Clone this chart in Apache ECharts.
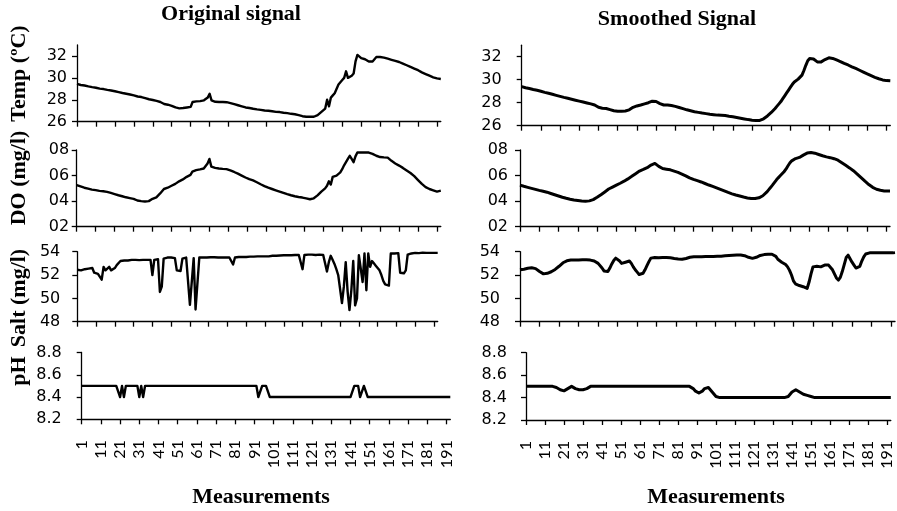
<!DOCTYPE html>
<html><head><meta charset="utf-8">
<script src="https://cdn.jsdelivr.net/npm/echarts@6/dist/echarts.min.js"></script>
<style>html,body{margin:0;padding:0;background:#fff}#c{width:897px;height:511px}</style>
</head><body><div id="c"></div>
<script>
// categories 1..193 (measurement index)
const categories = [];
for (let i = 1; i <= 193; i++) categories.push(String(i));

const tempTicks = [26, 28, 30, 32];
const doTicks = [2, 4, 6, 8];
const saltTicks = [48, 50, 52, 54];
const phTicks = [8.2, 8.4, 8.6, 8.8];

const tempOriginal = [
29.45,29.4,29.35,29.32,29.3,29.25,29.22,29.2,29.15,29.12,
29.1,29.05,29.02,29.0,28.98,28.95,28.9,28.88,28.85,28.8,
28.78,28.75,28.7,28.65,28.62,28.6,28.55,28.5,28.48,28.45,
28.4,28.35,28.3,28.28,28.25,28.2,28.15,28.1,28.05,28.0,
27.98,27.95,27.9,27.85,27.8,27.7,27.62,27.58,27.55,27.5,
27.45,27.4,27.3,27.25,27.22,27.2,27.25,27.3,27.3,27.32,
27.35,27.8,27.82,27.85,27.85,27.88,27.9,27.95,28.05,28.2,
28.55,27.95,27.85,27.82,27.8,27.8,27.82,27.8,27.8,27.78,
27.75,27.7,27.65,27.6,27.55,27.5,27.45,27.4,27.35,27.3,
27.28,27.25,27.2,27.18,27.15,27.12,27.1,27.08,27.05,27.02,
27.0,27.0,26.98,26.95,26.92,26.9,26.9,26.88,26.85,26.82,
26.8,26.78,26.75,26.72,26.7,26.68,26.65,26.6,26.55,26.5,
26.48,26.45,26.45,26.45,26.45,26.45,26.48,26.6,26.75,26.9,
27.0,27.2,28.0,27.4,28.2,28.4,28.6,28.7,29.4,29.6,
29.8,30.0,30.6,30.0,30.1,30.2,30.4,31.5,32.1,32.0,
31.8,31.75,31.7,31.6,31.5,31.4,31.5,31.7,31.9,31.95,
31.9,31.88,31.85,31.8,31.75,31.7,31.65,31.6,31.55,31.5,
31.45,31.4,31.3,31.2,31.15,31.05,31.0,30.9,30.85,30.75,
30.7,30.6,30.5,30.45,30.35,30.3,30.2,30.1,30.05,30.0,
29.95,29.95,29.9
];

const tempSmoothed = [
29.4,29.35,29.3,29.27,29.23,29.2,29.15,29.12,29.08,29.05,
29.0,28.95,28.9,28.86,28.82,28.78,28.73,28.68,28.64,28.6,
28.55,28.5,28.46,28.42,28.38,28.34,28.3,28.26,28.22,28.18,
28.14,28.1,28.06,28.02,27.98,27.94,27.9,27.85,27.8,27.7,
27.6,27.55,27.52,27.5,27.5,27.45,27.4,27.35,27.3,27.27,
27.25,27.25,27.25,27.25,27.28,27.3,27.38,27.5,27.6,27.68,
27.72,27.76,27.8,27.85,27.9,27.95,28.0,28.08,28.13,28.15,
28.1,28.0,27.92,27.85,27.8,27.8,27.8,27.78,27.75,27.72,
27.68,27.63,27.58,27.53,27.48,27.43,27.38,27.34,27.3,27.26,
27.22,27.19,27.16,27.13,27.1,27.07,27.05,27.03,27.0,26.98,
26.96,26.94,26.92,26.91,26.9,26.9,26.88,26.85,26.82,26.8,
26.77,26.74,26.71,26.68,26.65,26.62,26.59,26.56,26.53,26.5,
26.48,26.46,26.45,26.45,26.46,26.5,26.6,26.72,26.85,27.0,
27.15,27.32,27.5,27.7,27.9,28.1,28.35,28.6,28.85,29.1,
29.35,29.6,29.8,29.95,30.05,30.2,30.4,30.8,31.25,31.65,
31.85,31.9,31.8,31.65,31.55,31.5,31.55,31.65,31.75,31.85,
31.9,31.9,31.85,31.8,31.72,31.65,31.58,31.5,31.42,31.35,
31.28,31.2,31.12,31.05,30.98,30.9,30.82,30.74,30.66,30.58,
30.5,30.42,30.35,30.28,30.2,30.14,30.08,30.02,29.98,29.95,
29.92,29.9,29.9
];

const doOriginal = [
5.25,5.2,5.15,5.1,5.05,5.0,4.98,4.95,4.9,4.88,
4.86,4.82,4.8,4.78,4.77,4.75,4.72,4.68,4.64,4.6,
4.55,4.5,4.46,4.42,4.38,4.34,4.3,4.27,4.24,4.22,
4.18,4.12,4.05,4.02,4.0,3.98,3.97,3.95,4.0,4.1,
4.18,4.22,4.3,4.45,4.6,4.75,4.95,5.05,5.05,5.08,
5.2,5.28,5.35,5.45,5.55,5.62,5.7,5.8,5.9,5.98,
6.05,6.3,6.4,6.42,6.5,6.48,6.52,6.55,6.65,6.95,
7.3,6.7,6.62,6.6,6.58,6.55,6.55,6.52,6.5,6.5,
6.45,6.4,6.35,6.28,6.22,6.15,6.08,6.0,5.92,5.85,
5.78,5.72,5.68,5.62,5.55,5.48,5.4,5.32,5.25,5.18,
5.12,5.05,5.0,4.95,4.9,4.85,4.8,4.75,4.7,4.65,
4.6,4.55,4.5,4.46,4.42,4.38,4.35,4.32,4.3,4.28,
4.25,4.22,4.18,4.15,4.18,4.22,4.3,4.45,4.6,4.75,
4.85,5.0,5.2,5.55,5.3,5.9,5.95,6.0,6.15,6.25,
6.5,6.8,7.05,7.3,7.55,7.3,7.05,7.5,7.8,7.75,
7.8,7.75,7.8,7.78,7.8,7.75,7.7,7.6,7.55,7.5,
7.45,7.45,7.42,7.45,7.4,7.3,7.15,7.05,6.95,6.85,
6.78,6.7,6.6,6.5,6.4,6.3,6.2,6.05,5.95,5.8,
5.65,5.5,5.35,5.2,5.1,5.05,4.95,4.9,4.85,4.8,
4.75,4.85,4.82
];

const doSmoothed = [
5.25,5.2,5.16,5.12,5.08,5.04,5.0,4.96,4.92,4.88,
4.84,4.8,4.77,4.74,4.7,4.65,4.6,4.55,4.5,4.45,
4.4,4.35,4.3,4.26,4.22,4.18,4.15,4.12,4.09,4.07,
4.05,4.03,4.01,4.0,4.0,4.0,4.02,4.06,4.12,4.2,
4.3,4.4,4.5,4.6,4.72,4.85,4.95,5.03,5.1,5.18,
5.25,5.32,5.4,5.48,5.56,5.65,5.74,5.84,5.94,6.05,
6.15,6.25,6.35,6.42,6.48,6.55,6.62,6.72,6.82,6.9,
6.95,6.85,6.72,6.6,6.55,6.52,6.5,6.48,6.45,6.4,
6.35,6.3,6.25,6.18,6.12,6.05,5.98,5.9,5.82,5.75,
5.7,5.65,5.6,5.55,5.5,5.45,5.38,5.32,5.26,5.2,
5.15,5.1,5.04,4.98,4.92,4.86,4.8,4.74,4.68,4.62,
4.57,4.52,4.48,4.44,4.4,4.36,4.32,4.28,4.25,4.22,
4.2,4.2,4.2,4.22,4.26,4.32,4.42,4.55,4.7,4.88,
5.06,5.25,5.45,5.65,5.82,5.98,6.12,6.3,6.5,6.75,
6.98,7.15,7.28,7.33,7.38,7.42,7.5,7.6,7.7,7.76,
7.8,7.8,7.78,7.75,7.7,7.65,7.6,7.55,7.5,7.46,
7.43,7.4,7.36,7.32,7.28,7.2,7.1,7.0,6.9,6.8,
6.7,6.6,6.5,6.38,6.26,6.12,5.98,5.84,5.7,5.56,
5.42,5.3,5.18,5.08,5.0,4.93,4.88,4.85,4.82,4.8,
4.8,4.8,4.8
];

const saltOriginal = [
52.45,52.5,52.4,52.55,52.5,52.45,52.55,52.5,52.6,52.2,
52.15,52.1,52.1,51.6,52.7,52.4,52.35,52.7,52.4,52.45,
52.6,52.85,53.0,53.2,53.25,53.25,53.28,53.25,53.28,53.3,
53.28,53.3,53.3,53.28,53.3,53.3,53.32,53.3,53.3,53.3,
52.0,53.3,53.35,53.35,50.55,51.0,53.4,53.45,53.5,53.5,
53.5,53.5,53.45,52.4,52.3,52.35,53.4,53.5,53.5,53.45,
49.45,49.5,53.45,49.05,49.1,53.5,53.5,53.5,53.5,53.5,
53.5,53.52,53.5,53.52,53.5,53.5,53.52,53.5,53.52,53.5,
53.52,53.5,53.55,52.9,53.5,53.55,53.55,53.55,53.55,53.55,
53.55,53.55,53.58,53.55,53.58,53.58,53.6,53.58,53.6,53.6,
53.6,53.62,53.6,53.62,53.65,53.65,53.65,53.68,53.68,53.7,
53.7,53.7,53.7,53.72,53.7,53.72,53.72,53.7,53.72,53.72,
52.5,53.72,53.72,53.75,53.72,53.75,53.75,53.72,53.75,53.75,
53.75,53.72,53.75,52.3,53.1,53.65,53.3,52.95,52.5,52.0,
50.8,49.6,51.0,53.1,50.6,49.0,50.7,53.2,49.4,50.0,
53.7,53.7,51.4,53.85,50.7,53.85,52.7,53.2,53.0,52.8,
52.6,52.4,52.0,51.5,51.2,51.1,51.1,53.85,53.85,53.85,
53.85,53.88,52.2,52.1,52.15,52.4,53.75,53.7,53.85,53.9,
53.9,53.9,53.88,53.9,53.92,53.9,53.9,53.92,53.9,53.9,
53.9,53.92,53.9
];

const saltSmoothed = [
52.45,52.48,52.5,52.55,52.58,52.6,52.62,52.62,52.55,52.45,
52.3,52.15,52.1,52.1,52.15,52.2,52.28,52.38,52.48,52.6,
52.75,52.9,53.05,53.15,53.22,53.26,53.28,53.28,53.28,53.28,
53.28,53.28,53.3,53.3,53.3,53.3,53.28,53.25,53.2,53.1,
53.0,52.85,52.6,52.35,52.2,52.3,52.6,52.95,53.25,53.45,
53.4,53.2,53.0,53.0,53.1,53.2,53.2,53.0,52.7,52.45,
52.25,52.05,52.0,52.15,52.45,52.8,53.15,53.45,53.55,53.5,
53.48,53.48,53.5,53.5,53.5,53.5,53.5,53.48,53.45,53.42,
53.4,53.38,53.36,53.35,53.38,53.42,53.48,53.52,53.55,53.56,
53.57,53.57,53.57,53.57,53.58,53.58,53.58,53.58,53.58,53.58,
53.6,53.6,53.6,53.62,53.63,53.65,53.66,53.68,53.7,53.7,
53.7,53.72,53.72,53.72,53.7,53.66,53.6,53.52,53.46,53.43,
53.45,53.52,53.6,53.68,53.72,53.75,53.77,53.78,53.78,53.78,
53.75,53.6,53.35,53.2,53.1,53.0,52.9,52.7,52.4,52.0,
51.5,51.25,51.15,51.1,51.05,51.0,50.9,50.85,51.4,52.1,
52.7,52.8,52.75,52.7,52.7,52.75,52.85,52.95,52.85,52.65,
52.45,52.1,51.75,51.57,51.8,52.3,52.9,53.5,53.7,53.4,
53.1,52.85,52.6,52.57,52.75,53.2,53.55,53.8,53.9,53.9,
53.9,53.9,53.9,53.9,53.9,53.92,53.9,53.9,53.92,53.9,
53.9,53.9,53.92
];

const phOriginal = [
8.5,8.5,8.5,8.5,8.5,8.5,8.5,8.5,8.5,8.5,
8.5,8.5,8.5,8.5,8.5,8.5,8.5,8.5,8.5,8.5,
8.4,8.5,8.4,8.5,8.5,8.5,8.5,8.5,8.5,8.5,
8.4,8.5,8.4,8.5,8.5,8.5,8.5,8.5,8.5,8.5,
8.5,8.5,8.5,8.5,8.5,8.5,8.5,8.5,8.5,8.5,
8.5,8.5,8.5,8.5,8.5,8.5,8.5,8.5,8.5,8.5,
8.5,8.5,8.5,8.5,8.5,8.5,8.5,8.5,8.5,8.5,
8.5,8.5,8.5,8.5,8.5,8.5,8.5,8.5,8.5,8.5,
8.5,8.5,8.5,8.5,8.5,8.5,8.5,8.5,8.5,8.5,
8.5,8.5,8.4,8.4,8.5,8.5,8.5,8.5,8.4,8.4,
8.4,8.4,8.4,8.4,8.4,8.4,8.4,8.4,8.4,8.4,
8.4,8.4,8.4,8.4,8.4,8.4,8.4,8.4,8.4,8.4,
8.4,8.4,8.4,8.4,8.4,8.4,8.4,8.4,8.4,8.4,
8.4,8.4,8.4,8.4,8.4,8.4,8.4,8.4,8.4,8.4,
8.4,8.4,8.5,8.5,8.5,8.4,8.4,8.5,8.5,8.4,
8.4,8.4,8.4,8.4,8.4,8.4,8.4,8.4,8.4,8.4,
8.4,8.4,8.4,8.4,8.4,8.4,8.4,8.4,8.4,8.4,
8.4,8.4,8.4,8.4,8.4,8.4,8.4,8.4,8.4,8.4,
8.4,8.4,8.4,8.4,8.4,8.4,8.4,8.4,8.4,8.4,
8.4,8.4,8.4
];

const phSmoothed = [
8.5,8.5,8.5,8.5,8.5,8.5,8.5,8.5,8.5,8.5,
8.5,8.5,8.5,8.5,8.5,8.5,8.49,8.48,8.47,8.46,
8.46,8.47,8.48,8.49,8.5,8.49,8.48,8.47,8.47,8.47,
8.47,8.48,8.48,8.49,8.5,8.5,8.5,8.5,8.5,8.5,
8.5,8.5,8.5,8.5,8.5,8.5,8.5,8.5,8.5,8.5,
8.5,8.5,8.5,8.5,8.5,8.5,8.5,8.5,8.5,8.5,
8.5,8.5,8.5,8.5,8.5,8.5,8.5,8.5,8.5,8.5,
8.5,8.5,8.5,8.5,8.5,8.5,8.5,8.5,8.5,8.5,
8.5,8.5,8.5,8.5,8.5,8.5,8.5,8.49,8.48,8.46,
8.45,8.44,8.44,8.46,8.48,8.49,8.49,8.47,8.45,8.43,
8.41,8.4,8.4,8.4,8.4,8.4,8.4,8.4,8.4,8.4,
8.4,8.4,8.4,8.4,8.4,8.4,8.4,8.4,8.4,8.4,
8.4,8.4,8.4,8.4,8.4,8.4,8.4,8.4,8.4,8.4,
8.4,8.4,8.4,8.4,8.4,8.4,8.4,8.4,8.41,8.43,
8.45,8.46,8.47,8.46,8.45,8.44,8.43,8.43,8.42,8.42,
8.41,8.41,8.4,8.4,8.4,8.4,8.4,8.4,8.4,8.4,
8.4,8.4,8.4,8.4,8.4,8.4,8.4,8.4,8.4,8.4,
8.4,8.4,8.4,8.4,8.4,8.4,8.4,8.4,8.4,8.4,
8.4,8.4,8.4,8.4,8.4,8.4,8.4,8.4,8.4,8.4,
8.4,8.4,8.4
];

const yLabelFont = '"DejaVu Sans"';
const xLabelFont = 'Lato';
const fmtInt = v => String(v);
const fmtDO = v => '0' + v;
const fmtPH = v => v.toFixed(1);

const panels = [
  {data: tempOriginal, l: 77,   r: 440.8, t: 45,   b: 121.7, min: 26,  max: 33,  ticks: tempTicks, fmt: fmtInt, m: 10, lw: 2.4},
  {data: doOriginal,   l: 76.7, r: 440.8, t: 150,  b: 226.7, min: 2,   max: 8,   ticks: doTicks,   fmt: fmtDO,  m: 7.5, lw: 2.4},
  {data: saltOriginal, l: 77.3, r: 437.7, t: 251.7,b: 321.7, min: 48,  max: 54,  ticks: saltTicks, fmt: fmtInt, m: 17, lw: 2.4},
  {data: phOriginal,   l: 81.7, r: 450.3, t: 352.5,b: 419.3, min: 8.2, max: 8.8, ticks: phTicks,   fmt: fmtPH,  m: 20, lw: 2.4, xl: true},
  {data: tempSmoothed, l: 521.7,r: 890.3, t: 45.2, b: 125.7, min: 26,  max: 33,  ticks: tempTicks, fmt: fmtInt, m: 20, lw: 3},
  {data: doSmoothed,   l: 520,  r: 890,   t: 150,  b: 226.7, min: 2,   max: 8,   ticks: doTicks,   fmt: fmtDO,  m: 12, lw: 3},
  {data: saltSmoothed, l: 520,  r: 895,   t: 251.7,b: 321.7, min: 48,  max: 54,  ticks: saltTicks, fmt: fmtInt, m: 20, lw: 3},
  {data: phSmoothed,   l: 526,  r: 890.8, t: 352.7,b: 420,   min: 8.2, max: 8.8, ticks: phTicks,   fmt: fmtPH,  m: 19, lw: 3, xl: true}
];

const axisLineStyle = {color: '#000', width: 1.3};
const grid = [], xAxis = [], yAxis = [], series = [];
panels.forEach((p, i) => {
  grid.push({left: p.l, top: p.t, width: p.r - p.l, height: p.b - p.t, containLabel: false});
  xAxis.push({
    type: 'category', gridIndex: i, data: categories, boundaryGap: false,
    axisLine: {show: true, lineStyle: axisLineStyle},
    axisTick: {show: true, interval: 9, length: 5, lineStyle: axisLineStyle},
    axisLabel: {show: !!p.xl, interval: 9, rotate: 90, margin: 21, color: '#000',
      fontFamily: xLabelFont, fontSize: 16},
    splitLine: {show: false}
  });
  yAxis.push({
    type: 'value', gridIndex: i, min: p.min, max: p.max,
    axisLine: {show: true, lineStyle: axisLineStyle},
    axisTick: {show: true, length: 5, customValues: p.ticks, lineStyle: axisLineStyle},
    axisLabel: {show: true, customValues: p.ticks, formatter: p.fmt, margin: p.m,
      color: '#000', fontFamily: yLabelFont, fontSize: 16},
    splitLine: {show: false}
  });
  series.push({
    type: 'line', xAxisIndex: i, yAxisIndex: i, data: p.data,
    showSymbol: false, symbol: 'none', smooth: false,
    lineStyle: {color: '#000', width: p.lw, join: 'round'},
    silent: true
  });
});

const serif = '"Liberation Serif", "Times New Roman", serif';
const titleStyle = (text, size) => ({text: text, fontFamily: serif, fontWeight: 'bold', fontSize: size || 22,
  fill: '#000', align: 'center', verticalAlign: 'middle'});
const graphic = [
  {type: 'text', x: 231, y: 14, style: titleStyle('Original signal')},
  {type: 'text', x: 677, y: 19, style: titleStyle('Smoothed Signal')},
  {type: 'text', x: 261, y: 497, style: titleStyle('Measurements')},
  {type: 'text', x: 716, y: 497, style: titleStyle('Measurements')},
  {type: 'text', x: 19, y: 73.5, rotation: Math.PI / 2, style: titleStyle('Temp (ºC)')},
  {type: 'text', x: 19, y: 178, rotation: Math.PI / 2, style: titleStyle('DO (mg/l)')},
  {type: 'text', x: 19, y: 298, rotation: Math.PI / 2, style: titleStyle('Salt (mg/l)')},
  {type: 'text', x: 19, y: 371, rotation: Math.PI / 2, style: titleStyle('pH')}
];

const chart = echarts.init(document.getElementById('c'), null, {renderer: 'canvas'});
chart.setOption({animation: false, backgroundColor: '#fff', grid, xAxis, yAxis, series, graphic});
</script></body></html>
